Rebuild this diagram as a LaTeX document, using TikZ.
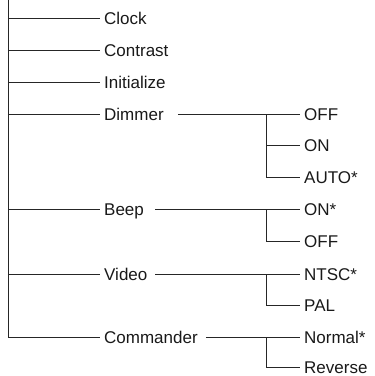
\documentclass[tikz,border=0pt]{standalone}
\usepackage{fontspec}
\setmainfont{Liberation Sans}
\begin{document}
\begin{tikzpicture}[x=1pt,y=-1pt,
  lbl/.style={anchor=west,inner xsep=4pt,inner ysep=0pt,text height=12.2pt,text depth=0pt,
    font=\fontsize{17}{20}\selectfont,text=black!90},
  ln/.style={draw=black!85,line width=0.9pt}]
\useasboundingbox (0,0) rectangle (375,376);
% main items
\coordinate (top) at (8,0);
\node[lbl] (clock) at (100,18) {Clock};
\node[lbl] (contrast) at (100,50) {Contrast};
\node[lbl] (init) at (100,82) {Initialize};
\node[lbl] (dim) at (100,114) {Dimmer};
\node[lbl] (beep) at (100,209) {Beep};
\node[lbl] (video) at (100,274) {Video};
\node[lbl] (cmd) at (100,337) {Commander};
% sub items
\node[lbl] (doff) at (300,114) {OFF};
\node[lbl] (don) at (300,145) {ON};
\node[lbl] (dauto) at (300,177) {AUTO*};
\node[lbl] (bon) at (300,209) {ON*};
\node[lbl] (boff) at (300,241) {OFF};
\node[lbl] (ntsc) at (300,274) {NTSC*};
\node[lbl] (pal) at (300,305) {PAL};
\node[lbl] (normal) at (300,337) {Normal*};
\node[lbl] (rev) at (300,367) {Reverse};
% main trunk
\coordinate (trunkend) at (8,337);
\draw[ln] (top) -- (trunkend) -- (cmd.west);
\foreach \n in {clock,contrast,init,dim,beep,video}
  \draw[ln] (top |- \n.west) -- (\n.west);
% branches
\coordinate (bx) at (266,0);
\draw[ln] ([xshift=10pt]dim.east) -- (doff.west);
\draw[ln] (bx |- doff.west) -- (bx |- dauto.west) -- (dauto.west);
\draw[ln] (bx |- don.west) -- (don.west);
\draw[ln] ([xshift=7pt]beep.east) -- (bon.west);
\draw[ln] (bx |- bon.west) -- (bx |- boff.west) -- (boff.west);
\draw[ln] ([xshift=3.5pt]video.east) -- (ntsc.west);
\draw[ln] (bx |- ntsc.west) -- (bx |- pal.west) -- (pal.west);
\draw[ln] ([xshift=4pt]cmd.east) -- (normal.west);
\draw[ln] (bx |- normal.west) -- (bx |- rev.west) -- (rev.west);
\end{tikzpicture}
\end{document}
